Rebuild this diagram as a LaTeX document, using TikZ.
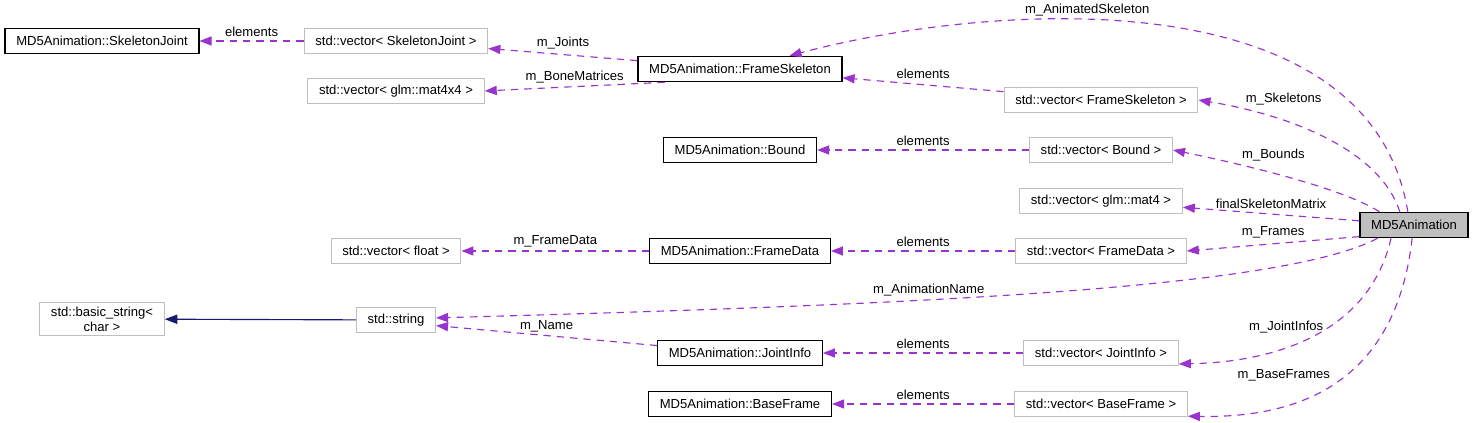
\documentclass[tikz,border=0pt]{standalone}
\usepackage{fontspec}
\setmainfont{Liberation Sans}
\usepackage{tikz}
\usetikzlibrary{
  arrows.meta
}
\definecolor{doxpurple}{RGB}{154,50,205}
\definecolor{doxnavy}{RGB}{25,25,112}
\definecolor{doxgray}{RGB}{191,191,191}
\tikzset{
  doxClass/.style={
    rectangle,
    draw=black,
    line width=0.9pt,
    fill=white,
    inner xsep=8.4pt,
    inner ysep=0pt,
    minimum height=19pt,
    font=\fontsize{9.8}{11.5}\selectfont,
    align=center
  },
  doxExternal/.style={
    doxClass,
    draw=doxgray,
    line width=0.8pt
  },
  doxMain/.style={
    doxClass,
    fill=doxgray
  },
  doxUse/.style={
    -{Triangle[length=9pt,width=6.8pt]},
    line width=0.85pt,
    dash pattern=on 5.5pt off 4.5pt,
    draw=doxpurple
  },
  doxInherit/.style={
    -{Triangle[length=9.5pt,width=7pt]},
    line width=0.85pt,
    draw=doxnavy
  },
  doxLabel/.style={
    font=\fontsize{9.8}{11.5}\selectfont,
    inner sep=1pt,
    text=black
  }
}

\begin{document}
\begin{tikzpicture}[x=0.75pt, y=-0.75pt]
  \useasboundingbox (0,0) rectangle (1473,423);

  % classes
  \node[doxClass] (skelJoint) at (102,41) {MD5Animation::SkeletonJoint};
  \node[doxExternal] (vecJoint) at (396,41) {std::vector< SkeletonJoint >};
  \node[doxExternal] (vecMat44) at (396,91) {std::vector< glm::mat4x4 >};
  \node[doxClass] (frameSkel) at (740,69) {MD5Animation::FrameSkeleton};
  \node[doxExternal] (vecSkel) at (1101,100) {std::vector< FrameSkeleton >};
  \node[doxClass] (bound) at (740,150) {MD5Animation::Bound};
  \node[doxExternal] (vecBound) at (1101,150) {std::vector< Bound >};
  \node[doxExternal] (vecMat4) at (1101,201) {std::vector< glm::mat4 >};
  \node[doxMain] (anim) at (1414,225) {MD5Animation};
  \node[doxExternal] (vecFrame) at (1101,251) {std::vector< FrameData >};
  \node[doxClass] (frameData) at (740,251) {MD5Animation::FrameData};
  \node[doxExternal] (vecFloat) at (396,251) {std::vector< float >};
  \node[doxExternal, inner ysep=3pt] (basicStr) at (102,319) {std::basic\_string<\\char >};
  \node[doxExternal] (str) at (396,320) {std::string};
  \node[doxClass] (jointInfo) at (740,353) {MD5Animation::JointInfo};
  \node[doxExternal] (vecInfo) at (1101,353) {std::vector< JointInfo >};
  \node[doxClass] (baseFrame) at (740,404) {MD5Animation::BaseFrame};
  \node[doxExternal] (vecBase) at (1101,404) {std::vector< BaseFrame >};

  % members
  \draw[doxUse] (vecJoint) -- node[doxLabel, above=1.5pt] {elements} (skelJoint);
  \draw[doxUse] (frameSkel) -- node[doxLabel, above=3pt] {m\_Joints} (vecJoint);
  \draw[doxUse] (frameSkel.190) -- node[doxLabel, above=1pt] {m\_BoneMatrices} (vecMat44.east);
  \draw[doxUse] (vecSkel) -- node[doxLabel, above=3pt] {elements} (frameSkel);
  \draw[doxUse] (anim.115) .. controls (1370,-20) and (1000,0) ..
    node[doxLabel, pos=0.6, above=1pt] {m\_AnimatedSkeleton} (frameSkel.15);
  \draw[doxUse] (anim.137) .. controls (1380,150) and (1290,115) ..
    node[doxLabel, pos=0.68, above=10pt] {m\_Skeletons} (vecSkel.east);
  \draw[doxUse] (vecBound) -- node[doxLabel, above=1.5pt] {elements} (bound);
  \draw[doxUse] (anim.159) .. controls (1345,190) and (1260,168) ..
    node[doxLabel, pos=0.6, above=8pt] {m\_Bounds} (vecBound.east);
  \draw[doxUse] (anim) -- node[doxLabel, above=3pt] {finalSkeletonMatrix} (vecMat4);
  \draw[doxUse] (anim.192) -- node[doxLabel, above=3pt] {m\_Frames} (vecFrame.east);
  \draw[doxUse] (vecFrame) -- node[doxLabel, above=1.5pt] {elements} (frameData);
  \draw[doxUse] (frameData) -- node[doxLabel, above=1.5pt] {m\_FrameData} (vecFloat);
  \draw[doxUse] (anim.200) .. controls (1280,290) and (900,305) ..
    node[doxLabel, pos=0.61, above=1pt] {m\_AnimationName} (str.3);
  \draw[doxUse] (jointInfo) -- node[doxLabel, above=1.5pt] {m\_Name} (str.-8);
  \draw[doxUse] (vecInfo) -- node[doxLabel, above=1.5pt] {elements} (jointInfo);
  \draw[doxUse] (anim.210) .. controls (1370,330) and (1280,362) ..
    node[doxLabel, pos=0.62, above=9pt] {m\_JointInfos} (vecInfo.-8);
  \draw[doxUse] (vecBase) -- node[doxLabel, above=1.5pt] {elements} (baseFrame);
  \draw[doxUse] (anim.262) .. controls (1395,390) and (1290,418) ..
    node[doxLabel, pos=0.68, above=17pt] {m\_BaseFrames} (vecBase.-8);

  % inheritance
  \draw[doxInherit] (str) -- (basicStr);
\end{tikzpicture}
\end{document}
